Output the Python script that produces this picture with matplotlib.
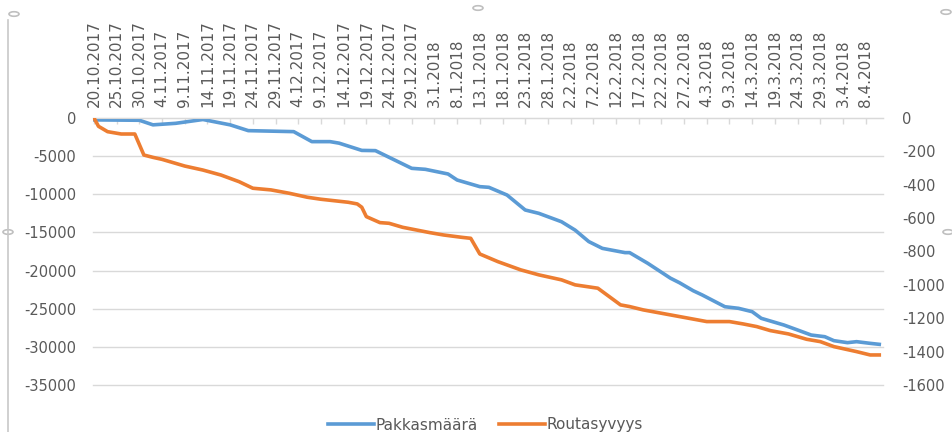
import pandas as pd
import matplotlib.pyplot as plt
from matplotlib.patches import Circle

plt.switch_backend('agg')
plt.rcParams['axes.unicode_minus'] = False

# Pakkasmäärä (left axis)
frost_dates = ['20.10.2017', '30.10.2017', '2.11.2017', '7.11.2017', '13.11.2017',
               '19.11.2017', '23.11.2017', '3.12.2017', '7.12.2017', '11.12.2017',
               '13.12.2017', '18.12.2017', '21.12.2017', '29.12.2017', '1.1.2018',
               '6.1.2018', '8.1.2018', '13.1.2018', '15.1.2018', '19.1.2018',
               '23.1.2018', '26.1.2018', '31.1.2018', '3.2.2018', '6.2.2018',
               '9.2.2018', '14.2.2018', '15.2.2018', '19.2.2018', '24.2.2018',
               '26.2.2018', '1.3.2018', '3.3.2018', '8.3.2018', '11.3.2018',
               '14.3.2018', '16.3.2018', '21.3.2018', '24.3.2018', '27.3.2018',
               '30.3.2018', '1.4.2018', '4.4.2018', '6.4.2018', '9.4.2018', '11.4.2018']
frost_sum = [-250, -300, -900, -700, -200,
             -900, -1660, -1790, -3100, -3100,
             -3300, -4250, -4280, -6600, -6730,
             -7340, -8130, -9000, -9090, -10100,
             -12060, -12500, -13600, -14700, -16200,
             -17090, -17650, -17650, -19050, -21000,
             -21600, -22640, -23200, -24740, -24950,
             -25390, -26260, -27140, -27790, -28450,
             -28670, -29190, -29450, -29320, -29540, -29670]

# Routasyvyys (right axis)
depth_dates = ['20.10.2017', '21.10.2017', '23.10.2017', '26.10.2017', '29.10.2017',
               '31.10.2017', '2.11.2017', '4.11.2017', '9.11.2017', '13.11.2017',
               '17.11.2017', '21.11.2017', '24.11.2017', '28.11.2017', '2.12.2017',
               '6.12.2017', '9.12.2017', '15.12.2017', '17.12.2017', '18.12.2017',
               '19.12.2017', '22.12.2017', '24.12.2017', '27.12.2017', '2.1.2018',
               '5.1.2018', '9.1.2018', '11.1.2018', '13.1.2018', '17.1.2018',
               '22.1.2018', '26.1.2018', '31.1.2018', '3.2.2018', '8.2.2018',
               '13.2.2018', '15.2.2018', '18.2.2018', '24.2.2018', '28.2.2018',
               '4.3.2018', '9.3.2018', '12.3.2018', '15.3.2018', '18.3.2018',
               '22.3.2018', '26.3.2018', '29.3.2018', '1.4.2018', '6.4.2018',
               '9.4.2018', '11.4.2018']
frost_depth = [0, -50, -82, -96, -96,
               -222, -236, -248, -288, -312,
               -342, -382, -421, -431, -451,
               -475, -487, -505, -515, -535,
               -591, -627, -631, -655, -687,
               -701, -715, -721, -815, -861,
               -910, -940, -970, -1000, -1020,
               -1120, -1130, -1150, -1180, -1200,
               -1220, -1220, -1234, -1250, -1274,
               -1294, -1326, -1340, -1370, -1400,
               -1420, -1420]

left_ticks = [0, -5000, -10000, -15000, -20000, -25000, -30000, -35000]
right_ticks = [0, -200, -400, -600, -800, -1000, -1200, -1400, -1600]

grid_col = '#d9d9d9'
text_col = '#595959'
blue = '#5b9bd5'
orange = '#ed7d31'


def to_dates(items):
    return pd.to_datetime(items, format='%d.%m.%Y')


fd = to_dates(frost_dates)
dd = to_dates(depth_dates)

fig = plt.figure(figsize=(9.53, 4.32), dpi=100)
ax = fig.add_axes([0.0976, 0.1088, 0.829, 0.6181])
ax2 = ax.twinx()

ax.plot(fd, frost_sum, color=blue, lw=2.6, solid_joinstyle='round', label='Pakkasmäärä')
ax2.plot(dd, frost_depth, color=orange, lw=2.6, solid_joinstyle='round', label='Routasyvyys')

ax.set_ylim(-35000, 0)
ax2.set_ylim(-1600, 0)
ax.set_yticks(left_ticks)
ax2.set_yticks(right_ticks)
ax.set_xlim(fd[0] - pd.Timedelta(hours=5), pd.Timestamp('2018-04-11') + pd.Timedelta(hours=20))

# category labels every 5 days along the top
ticks = pd.date_range(fd[0], pd.Timestamp('2018-04-10'), freq='5D')
ax.set_xticks(ticks)
ax.set_xticklabels(['%d.%d.%d' % (t.day, t.month, t.year) for t in ticks])
ax.xaxis.tick_top()
ax.tick_params(axis='x', which='both', rotation=90, direction='in', length=4,
               color=grid_col, width=1, labelsize=11, labelcolor=text_col, pad=8)
ax.tick_params(axis='y', length=0, labelsize=10.5, labelcolor=text_col, pad=12)
ax2.tick_params(axis='y', length=0, labelsize=10.5, labelcolor=text_col, pad=14)
for lab in ax.get_xticklabels():
    lab.set_verticalalignment('bottom')

ax.grid(axis='y', color=grid_col, lw=1)
for gl in ax.get_ygridlines():
    gl.set_clip_on(False)
ax.set_axisbelow(True)
for a in (ax, ax2):
    for side in ('left', 'right', 'bottom'):
        a.spines[side].set_visible(False)
    a.spines['top'].set_color(grid_col)
ax2.spines['top'].set_visible(False)

W, H = 953, 432
h1, l1 = ax.get_legend_handles_labels()
h2, l2 = ax2.get_legend_handles_labels()
fig.legend(h1 + h2, l1 + l2, loc='center', bbox_to_anchor=(0.5 + 9 / W, 1 - 425 / H), ncol=2,
           frameon=False, fontsize=11, labelcolor=text_col, handlelength=3.0,
           handletextpad=0.1, columnspacing=1.4, bbox_transform=fig.transFigure)

# chart area edge and selection handles
fig.add_artist(plt.Line2D([8 / W, 8 / W], [0, 1 - 20 / H], color='#c8c8c8', lw=1.2))
for hx, hy in [(14, 14), (478, 8), (946, 12), (8, 232), (948, 232)]:
    fig.add_artist(Circle((hx / W, 1 - hy / H), 5 / W, transform=fig.transFigure,
                          fill=False, ec='#c0c0c0', lw=1.2))

fig.savefig('out.png', dpi=100)
